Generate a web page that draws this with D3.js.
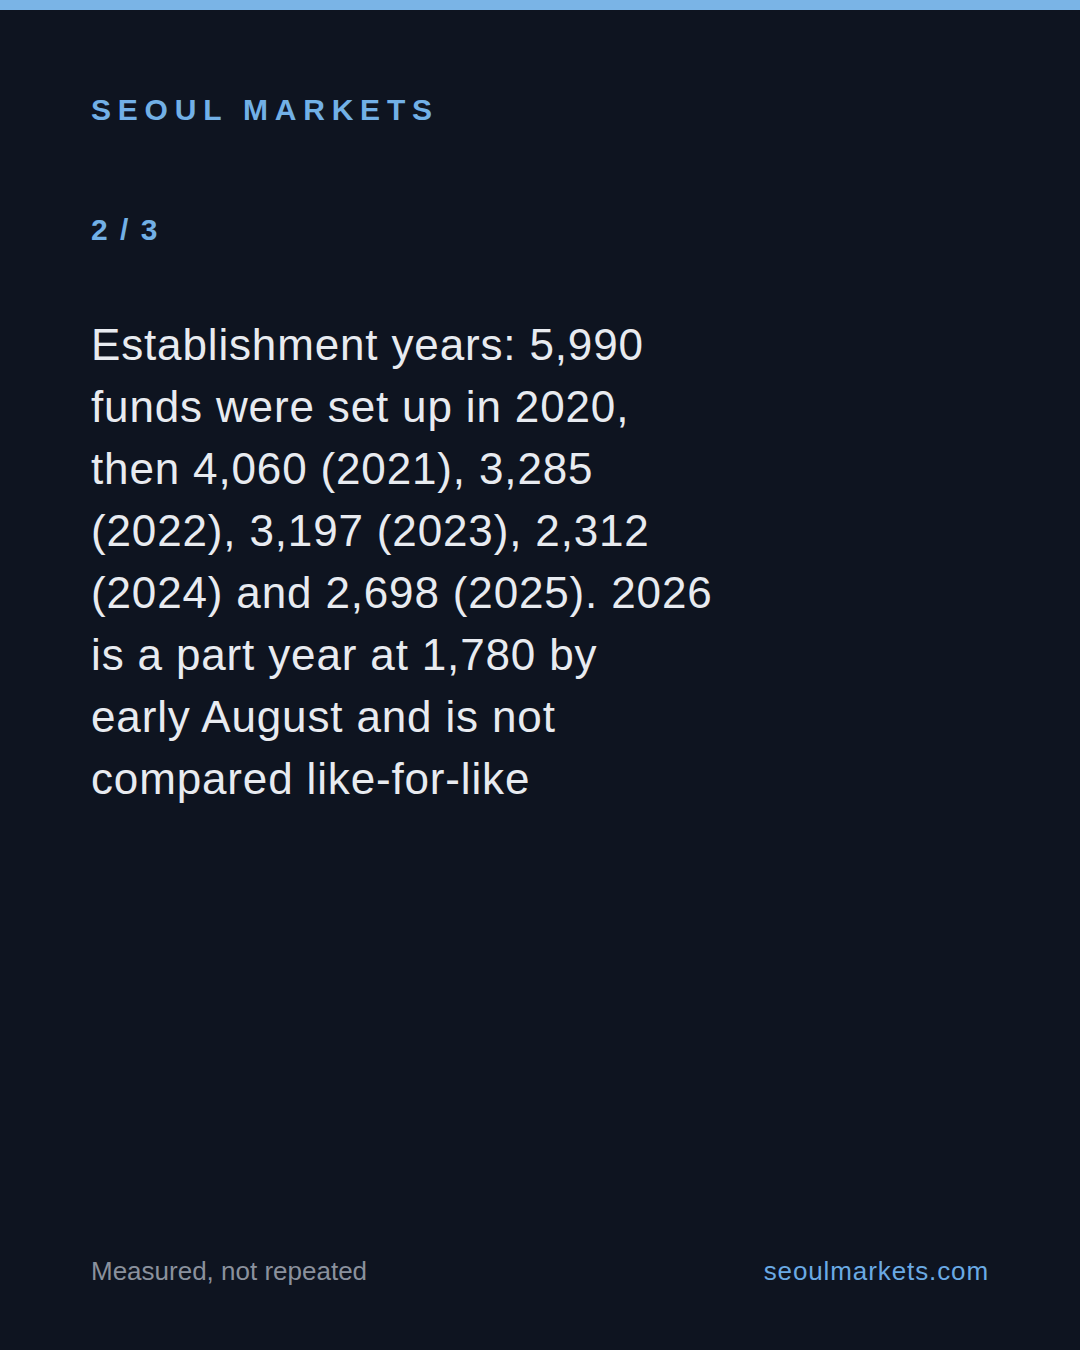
<!DOCTYPE html>
<html>
<head>
<meta charset="utf-8">
<script src="https://cdn.jsdelivr.net/npm/d3@7"></script>
<style>
  html, body { margin: 0; padding: 0; background: #0e1420; }
  svg { display: block; }
</style>
</head>
<body>
<svg id="card"></svg>
<script>
// establishment years and fund counts
var years = [2020, 2021, 2022, 2023, 2024, 2025, 2026];
var counts = [5990, 4060, 3285, 3197, 2312, 2698, 1780];
var partYear = 2026;

var W = 1080, H = 1350, left = 91, maxChars = 30;
var fmt = d3.format(",");
var font = "'Liberation Sans', Arial, sans-serif";

var svg = d3.select('#card')
    .attr('width', W)
    .attr('height', H)
    .style('font-family', font);

svg.append('rect').attr('width', W).attr('height', H).attr('fill', '#0e1420');
svg.append('rect').attr('width', W).attr('height', 10).attr('fill', '#7ab4e6');

svg.append('text')
    .attr('x', left).attr('y', 120)
    .attr('fill', '#72b0e6')
    .style('font-size', '30px')
    .style('font-weight', 'bold')
    .style('letter-spacing', '6.8px')
    .text('SEOUL MARKETS');

svg.append('text')
    .attr('x', left).attr('y', 240)
    .attr('fill', '#72b0e6')
    .style('font-size', '30px')
    .style('font-weight', 'bold')
    .style('letter-spacing', '2px')
    .text('2 / 3');

// build the sentence from the data
var full = years.filter(function (y) { return y !== partYear; });
var parts = full.slice(1).map(function (y) {
    return fmt(counts[years.indexOf(y)]) + ' (' + y + ')';
});
var sentence = 'Establishment years: ' + fmt(counts[0]) + ' funds were set up in ' + years[0] +
    ', then ' + parts.slice(0, -1).join(', ') + ' and ' + parts[parts.length - 1] + '. ' +
    partYear + ' is a part year at ' + fmt(counts[years.indexOf(partYear)]) +
    ' by early August and is not compared like-for-like';

// wrap on character count
var lines = [], cur = '';
sentence.split(' ').forEach(function (w) {
    var next = cur ? cur + ' ' + w : w;
    if (next.length > maxChars && cur) { lines.push(cur); cur = w; }
    else { cur = next; }
});
if (cur) { lines.push(cur); }

svg.append('text')
    .attr('fill', '#e8ebf0')
    .style('font-size', '44px')
    .style('letter-spacing', '0.85px')
    .selectAll('tspan')
    .data(lines)
  .enter().append('tspan')
    .attr('x', left)
    .attr('y', function (d, i) { return 360 + i * 62; })
    .text(function (d) { return d; });

svg.append('text')
    .attr('x', left).attr('y', 1280)
    .attr('fill', '#8a919d')
    .style('font-size', '26px')
    .text('Measured, not repeated');

svg.append('text')
    .attr('x', 989).attr('y', 1280)
    .attr('text-anchor', 'end')
    .attr('fill', '#6aaae4')
    .style('font-size', '26px')
    .style('letter-spacing', '0.9px')
    .text('seoulmarkets.com');
</script>
</body>
</html>
